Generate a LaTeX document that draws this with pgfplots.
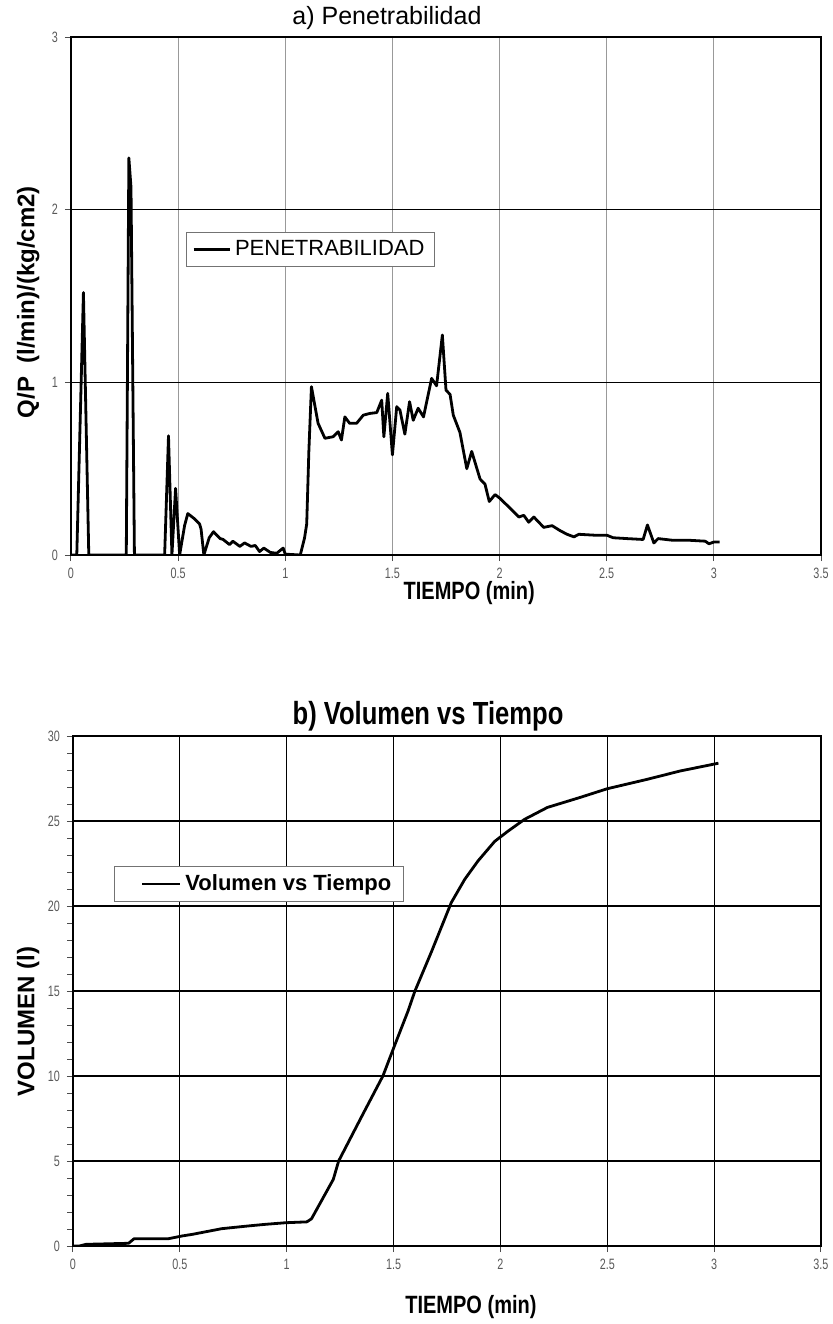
\documentclass[border=0pt]{standalone}
\usepackage{fontspec}
\setmainfont{Liberation Sans}
\newfontfamily\narrow[FakeStretch=0.72]{Liberation Sans}
\newfontfamily\cond[FakeStretch=0.8]{Liberation Sans}
\usepackage{pgfplots}
\pgfplotsset{compat=1.18}
\usepackage{pgfplotstable}

% a) penetrabilidad Q/P vs tiempo
\pgfplotstableread{
t qp
0 0
0.027 0
0.058 1.52
0.083 0
0.258 0
0.270 2.30
0.280 2.13
0.296 0
0.437 0
0.455 0.69
0.471 0
0.488 0.386
0.507 0
0.530 0.17
0.545 0.24
0.576 0.21
0.600 0.18
0.607 0.15
0.620 0
0.645 0.10
0.665 0.135
0.695 0.096
0.710 0.09
0.740 0.06
0.755 0.08
0.788 0.05
0.810 0.07
0.840 0.05
0.860 0.055
0.880 0.02
0.900 0.04
0.930 0.015
0.960 0.01
0.990 0.04
1.000 0.005
1.070 0
1.090 0.10
1.100 0.18
1.110 0.60
1.122 0.975
1.153 0.763
1.185 0.676
1.223 0.685
1.247 0.714
1.262 0.666
1.278 0.80
1.300 0.763
1.333 0.763
1.364 0.81
1.395 0.82
1.427 0.825
1.450 0.897
1.460 0.685
1.478 0.936
1.500 0.58
1.520 0.859
1.535 0.84
1.558 0.70
1.580 0.888
1.597 0.78
1.620 0.85
1.645 0.80
1.683 1.023
1.706 0.98
1.733 1.274
1.750 0.955
1.769 0.93
1.784 0.81
1.815 0.71
1.847 0.50
1.870 0.60
1.909 0.44
1.932 0.41
1.952 0.31
1.979 0.35
2.000 0.33
2.050 0.27
2.090 0.22
2.113 0.23
2.136 0.19
2.160 0.22
2.206 0.16
2.245 0.17
2.284 0.14
2.315 0.12
2.347 0.105
2.370 0.12
2.440 0.115
2.500 0.115
2.530 0.10
2.595 0.095
2.670 0.09
2.690 0.174
2.720 0.07
2.740 0.095
2.810 0.085
2.890 0.085
2.960 0.08
2.977 0.065
3.000 0.075
3.027 0.075
}\penetr

% b) volumen acumulado
\pgfplotstableread{
t vol
0 0
0.030 0
0.062 0.10
0.260 0.16
0.286 0.43
0.447 0.43
0.510 0.59
0.560 0.69
0.696 1.02
0.820 1.18
0.895 1.27
0.995 1.37
1.094 1.42
1.116 1.60
1.218 3.92
1.243 5.0
1.350 7.6
1.450 10.0
1.505 11.8
1.567 13.8
1.600 15.0
1.677 17.3
1.770 20.2
1.833 21.57
1.895 22.65
1.973 23.8
2.035 24.4
2.113 25.1
2.220 25.8
2.376 26.4
2.500 26.9
2.686 27.45
2.840 27.94
3.020 28.4
}\volumen

\pgfplotsset{
  ensayo/.style={
    scale only axis,
    anchor=south west,
    xmin=0, xmax=3.5,
    xtick={0,0.5,1,1.5,2,2.5,3,3.5},
    tick pos=left,
    tick label style={font=\narrow\fontsize{7.5}{8}\selectfont, color=black!65},
    /pgf/number format/assume math mode=true,
    axis line style={black, line width=0.6pt},
    tick align=outside, major tick length=3pt,
    tick style={black!70, line width=0.5pt},
    grid=major,
    xlabel={TIEMPO (min)},
    xlabel style={font=\bfseries\cond\fontsize{12.5}{14}\selectfont, anchor=center},
    ylabel style={font=\bfseries\fontsize{12}{14}\selectfont, anchor=center},
    legend cell align=left,
    legend style={anchor=north west, draw=black!55, line width=0.5pt, inner xsep=3pt, inner ysep=2pt},
  }
}

\begin{document}
\begin{tikzpicture}
\useasboundingbox (0,0) rectangle (416.5pt,-662pt);

\begin{axis}[ensayo,
    at={(35.5pt,-277.5pt)}, width=375pt, height=259pt,
    ymin=0, ymax=3, ytick={0,1,2,3},
    x grid style={black!40, line width=0.5pt},
    y grid style={black, line width=0.6pt},
    ylabel={Q/P\ \ (l/min)/(kg/cm2)},
    ylabel style={at={(axis description cs:-0.057,0.488)}},
    xlabel style={at={(axis description cs:0.531,-0.074)}},
    legend image code/.code={\draw[line width=1.4pt] (0pt,0pt) -- (18pt,0pt);},
    legend style={at={(axis description cs:0.153,0.624)}, font=\fontsize{11}{13}\selectfont},
  ]
  \addplot[black, line width=1.4pt, line join=round] table[x=t, y=qp] {\penetr};
  \addlegendentry{PENETRABILIDAD}
\end{axis}
\node[font=\fontsize{12.5}{14}\selectfont, anchor=center] at (193.5pt,-9pt) {a) Penetrabilidad};

\begin{axis}[ensayo,
    at={(36.5pt,-623pt)}, width=374pt, height=255pt,
    ymin=0, ymax=30, ytick={0,5,10,15,20,25,30},
    minor y tick num=4,
    grid style={black, line width=0.6pt},
    ylabel={VOLUMEN (l)},
    ylabel style={at={(axis description cs:-0.06,0.44)}},
    xlabel style={at={(axis description cs:0.532,-0.12)}},
    legend image code/.code={\path (0pt,0pt); \draw[line width=1.4pt] (9pt,0pt) -- (28pt,0pt);},
    legend style={at={(axis description cs:0.055,0.745)}, font=\bfseries\fontsize{11}{13}\selectfont, inner xsep=4pt},
  ]
  \addplot[black, line width=1.4pt, line join=round] table[x=t, y=vol] {\volumen};
  \addlegendentry{Volumen vs Tiempo\hspace{6pt}}
\end{axis}
\node[font=\bfseries\cond\fontsize{16}{18}\selectfont, anchor=center] at (214pt,-358pt) {b) Volumen vs Tiempo};
\end{tikzpicture}
\end{document}
